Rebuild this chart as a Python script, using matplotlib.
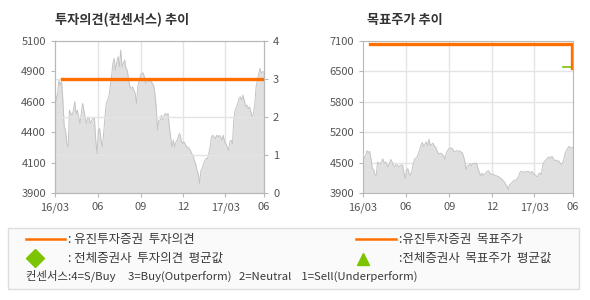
import numpy as np
import pandas as pd
import matplotlib
matplotlib.use('Agg')
import matplotlib.pyplot as plt
from matplotlib.lines import Line2D
from matplotlib.patches import Rectangle

plt.rcParams['font.family'] = ['Noto Sans CJK KR', 'DejaVu Sans']

# daily close, 2016/03 -> 2017/05
price = [4712, 4633, 4686, 4791, 4752, 4778, 4633, 4422, 4396, 4290, 4264, 4554,
         4528, 4514, 4554, 4620, 4528, 4554, 4501, 4449, 4528, 4607, 4554, 4488,
         4449, 4501, 4488, 4449, 4475, 4488, 4488, 4317, 4211, 4396, 4409, 4317,
         4264, 4369, 4501, 4607, 4633, 4660, 4739, 4818, 4923, 4963, 4870, 4936,
         4976, 4897, 5029, 4897, 4923, 4950, 4884, 4870, 4791, 4739, 4725, 4739,
         4712, 4686, 4607, 4739, 4791, 4831, 4844, 4849, 4818, 4765, 4778, 4791,
         4778, 4791, 4765, 4752, 4686, 4580, 4396, 4475, 4475, 4514, 4475, 4514,
         4528, 4514, 4528, 4422, 4343, 4264, 4317, 4264, 4303, 4317, 4356, 4369,
         4317, 4290, 4303, 4290, 4264, 4264, 4251, 4237, 4211, 4198, 4158, 4132,
         4079, 4053, 3974, 4079, 4092, 4132, 4158, 4172, 4172, 4211, 4264, 4343,
         4356, 4343, 4330, 4356, 4343, 4356, 4343, 4317, 4356, 4303, 4290, 4264,
         4237, 4303, 4317, 4290, 4475, 4554, 4580, 4607, 4646, 4660, 4633, 4673,
         4633, 4580, 4594, 4567, 4580, 4541, 4501, 4528, 4607, 4739, 4791, 4844,
         4884, 4844, 4857, 4857]
start, end = pd.Timestamp('2016-03-01'), pd.Timestamp('2017-05-23')
dates = pd.date_range(start, end, periods=len(price))

# investment opinion (4=S/Buy ... 1=Sell)
opinion_dates = pd.to_datetime(['2016-03-16', '2017-05-23'])
opinion = [3, 3]

# target price
target_dates = pd.to_datetime(['2016-03-17', '2017-05-21', '2017-05-21'])
target = [7040, 7040, 6540]
avg_target_dates = pd.to_datetime(['2017-05-02', '2017-05-21'])
avg_target = [6550, 6550]

tick_dates = pd.to_datetime(['2016-03-01', '2016-06-01', '2016-09-01', '2016-12-01',
                             '2017-03-01', '2017-05-23'])
tick_labels = ['16/03', '06', '09', '12', '17/03', '06']

orange = '#ff6f00'
green = '#7dc400'
grid_c = '#e4e4e4'
spine_c = '#b8b8b8'
txt_c = '#555555'

fig = plt.figure(figsize=(5.9, 3.0), dpi=100)
W, H = 590, 300


def box(x0, y0, x1, y1):
    return [x0 / W, 1 - y1 / H, (x1 - x0) / W, (y1 - y0) / H]


def style(ax):
    for s in ax.spines.values():
        s.set_color(spine_c)
    ax.tick_params(colors=spine_c, labelcolor=txt_c, labelsize=8, length=3, width=0.8)
    ax.set_xlim(start, end)
    ax.set_xticks(tick_dates)
    ax.set_xticklabels(tick_labels)
    for d in tick_dates[1:-1]:
        ax.axvline(d, color=grid_c, lw=1, zorder=1)


# ---- left: opinion chart
ax1 = fig.add_axes(box(55, 41, 264, 193))
ax1.fill_between(dates, 3900, price, color='#e0e0e0', lw=0, zorder=2)
ax1.plot(dates, price, color='#c4c4c4', lw=0.7, zorder=3)
ax1.set_ylim(3900, 5100)
ax1.set_yticks(np.linspace(3900, 5100, 6))
ax1.set_yticklabels(['3900', '4100', '4400', '4600', '4900', '5100'])
style(ax1)
ax2 = ax1.twinx()
ax2.set_ylim(0, 4)
ax2.set_yticks([0, 1, 2, 3, 4])
for v in [1, 2, 3]:
    ax2.axhline(v, color=grid_c, lw=1, zorder=1)
ax1.set_zorder(ax2.get_zorder() - 1)
ax1.patch.set_visible(True)
ax2.patch.set_visible(False)
ax2.plot(opinion_dates, opinion, color=orange, lw=2.4, zorder=5)
for s in ax2.spines.values():
    s.set_color(spine_c)
ax2.tick_params(colors=spine_c, labelcolor=txt_c, labelsize=8, length=3, width=0.8)
fig.text(55 / W, 1 - 20 / H, '투자의견(컨센서스) 추이', fontsize=9.5, fontweight='bold',
         color='#333333', va='center')

# ---- right: target price chart
ax3 = fig.add_axes(box(363, 41, 573, 193))
for v in np.linspace(3900, 7100, 6)[1:-1]:
    ax3.axhline(v, color=grid_c, lw=1, zorder=1)
ax3.fill_between(dates, 3900, price, color='#e0e0e0', lw=0, zorder=2)
ax3.plot(dates, price, color='#c4c4c4', lw=0.7, zorder=3)
ax3.plot(target_dates, target, color=orange, lw=2.4, zorder=5)
ax3.plot(avg_target_dates, avg_target, color=green, lw=1.2, zorder=4)
ax3.set_ylim(3900, 7100)
ax3.set_yticks(np.linspace(3900, 7100, 6))
ax3.set_yticklabels(['3900', '4500', '5200', '5800', '6500', '7100'])
style(ax3)
fig.text(367 / W, 1 - 20 / H, '목표주가 추이', fontsize=9.5, fontweight='bold',
         color='#333333', va='center')

# ---- legend box
fig.patches.append(Rectangle((8 / W, 1 - 289 / H), 571 / W, 61 / H, transform=fig.transFigure,
                             facecolor='#fafafa', edgecolor='#dedede', lw=1))
fs = 9
tc = '#3a3a3a'
fig.lines.append(Line2D([26 / W, 65 / W], [1 - 239 / H] * 2, transform=fig.transFigure,
                        color=orange, lw=1.8))
fig.text(68 / W, 1 - 239 / H, ': 유진투자증권  투자의견', fontsize=fs, color=tc, va='center')
fig.lines.append(Line2D([35 / W], [1 - 258 / H], transform=fig.transFigure, marker='D',
                        color=green, markersize=9, lw=0))
fig.text(68 / W, 1 - 258 / H, ': 전체증권사  투자의견  평균값', fontsize=fs, color=tc, va='center')
fig.lines.append(Line2D([356 / W, 396 / W], [1 - 239 / H] * 2, transform=fig.transFigure,
                        color=orange, lw=1.8))
fig.text(399 / W, 1 - 239 / H, ':유진투자증권  목표주가', fontsize=fs, color=tc, va='center')
fig.lines.append(Line2D([363 / W], [1 - 259 / H], transform=fig.transFigure, marker='^',
                        color=green, markersize=8, lw=0))
fig.text(399 / W, 1 - 258 / H, ':전체증권사  목표주가  평균값', fontsize=fs, color=tc, va='center')
fig.text(26 / W, 1 - 276 / H,
         '컨센서스:4=S/Buy     3=Buy(Outperform)   2=Neutral    1=Sell(Underperform)',
         fontsize=8.2, color=tc, va='center')

fig.savefig('out.png', dpi=100)
